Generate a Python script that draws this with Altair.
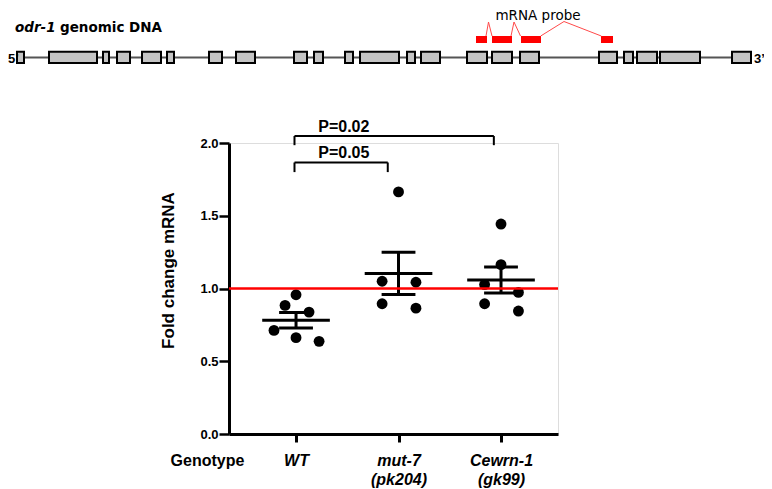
import altair as alt
import pandas as pd

# ---------------- data ----------------
genotypes = ["WT", "mut-7 (pk204)", "Cewrn-1 (gk99)"]
genotype_lines = [["WT"], ["mut-7", "(pk204)"], ["Cewrn-1", "(gk99)"]]

wt_values = [0.957, 0.884, 0.838, 0.712, 0.662, 0.637]
wt_jitter = [0.0, -0.107, 0.127, -0.215, 0.0, 0.225]
mut7_values = [1.664, 1.050, 1.043, 0.895, 0.865]
mut7_jitter = [0.0, -0.16, 0.17, -0.16, 0.17]
cewrn_values = [1.443, 1.164, 1.027, 0.973, 0.895, 0.845]
cewrn_jitter = [0.0, 0.0, -0.16, 0.17, -0.16, 0.17]

reference_level = [1.0]

bracket_left = [-0.015, -0.015]
bracket_right = [0.895, 1.93]
bracket_top = [1.866, 2.048]
bracket_foot = [1.80, 1.985]
bracket_labels = ["P=0.05", "P=0.02"]
bracket_label_x = [0.466, 0.466]
bracket_label_y = [1.899, 2.077]

# gene schematic (positions along the odr-1 locus, arbitrary units)
gene_start = [24]
gene_end = [732]
exon_start = [17, 49, 103, 117, 142, 167, 209, 236, 294, 314, 345, 360, 407, 421,
              467, 492, 520, 599, 624, 637, 660, 732]
exon_end = [24, 97, 109, 130, 161, 174, 222, 255, 307, 323, 353, 399, 415, 440,
            487, 512, 539, 617, 633, 657, 700, 751]
probe_start = [476, 492, 521, 601]
probe_end = [487, 512, 541, 613]
splice_id = [1, 1, 1, 2, 2, 2, 3, 3, 3]
splice_order = [0, 1, 2, 0, 1, 2, 0, 1, 2]
splice_pos = [486, 488.5, 492, 511, 514, 520.5, 540.7, 564, 601.3]
splice_height = [0, 14, 0, 0, 14, 0, 0, 14.5, 0]

# ---------------- tables ----------------
rows = []
for i, (vals, jit) in enumerate([(wt_values, wt_jitter), (mut7_values, mut7_jitter),
                                  (cewrn_values, cewrn_jitter)]):
    for v, j in zip(vals, jit):
        rows.append({"genotype": genotypes[i], "pos": i, "jit": j, "value": v})
df = pd.DataFrame(rows)
ref_df = pd.DataFrame({"ref": reference_level})
br_df = pd.DataFrame({"x1": bracket_left, "x2": bracket_right, "y": bracket_top,
                      "yf": bracket_foot, "label": bracket_labels,
                      "tx": bracket_label_x, "ty": bracket_label_y})
gene_df = pd.DataFrame({"s": gene_start, "e": gene_end})
exon_df = pd.DataFrame({"s": exon_start, "e": exon_end})
probe_df = pd.DataFrame({"s": probe_start, "e": probe_end})
splice_df = pd.DataFrame({"cid": splice_id, "k": splice_order, "x": splice_pos,
                          "h": splice_height})

FONT = "Liberation Sans"
xs = alt.Scale(domain=[-0.654, 2.556])
ys = alt.Scale(domain=[0, 2])
label_expr = str(genotype_lines).replace('"', "'") + "[datum.value]"

x_axis = alt.Axis(values=[0, 1, 2], labelExpr=label_expr, labelFont=FONT,
                  labelFontSize=16, labelFontWeight="bold", labelFontStyle="italic",
                  labelColor="black", labelLineHeight=19, labelBaseline="top",
                  labelPadding=10, labelFlush=False, labelOverlap=False,
                  tickSize=8, tickWidth=3, tickColor="black",
                  domainWidth=3, domainColor="black", grid=False,
                  title="Genotype", titleFont=FONT, titleFontSize=16,
                  titleFontWeight="bold", titleColor="black", titleX=-22, titleY=18,
                  titleAlign="center", titleBaseline="top", titleAngle=0)
y_axis = alt.Axis(values=[0, 0.5, 1, 1.5, 2], format=".1f", labelFont=FONT,
                  labelFontSize=13, labelFontWeight="bold", labelColor="black",
                  labelPadding=1, tickSize=10, tickWidth=2.5, tickColor="black",
                  domainWidth=3, domainColor="black", grid=False,
                  title="Fold change mRNA", titleFont=FONT, titleFontSize=17,
                  titleFontWeight="bold", titleColor="black", titleX=-61, titleY=127,
                  titleAlign="center", titleBaseline="middle", titleAngle=-90)

base = alt.Chart(df)
points = base.mark_circle(size=118, color="black", opacity=1).transform_calculate(
    xp="datum.pos + datum.jit"
).encode(x=alt.X("xp:Q", scale=xs, axis=x_axis),
         y=alt.Y("value:Q", scale=ys, axis=y_axis))

stats = base.transform_aggregate(
    mean="mean(value)", sem="stderr(value)", groupby=["pos"]
).transform_calculate(
    lo="datum.mean - datum.sem", hi="datum.mean + datum.sem",
    xl="datum.pos - 0.33", xr="datum.pos + 0.33",
    cl="datum.pos - 0.165", cr="datum.pos + 0.165")

mean_rule = stats.mark_rule(color="black", strokeWidth=3).encode(
    x=alt.X("xl:Q", scale=xs), x2="xr:Q", y=alt.Y("mean:Q", scale=ys))
sem_rule = stats.mark_rule(color="black", strokeWidth=3).encode(
    x=alt.X("pos:Q", scale=xs), y=alt.Y("lo:Q", scale=ys), y2="hi:Q")
cap_hi = stats.mark_rule(color="black", strokeWidth=3).encode(
    x=alt.X("cl:Q", scale=xs), x2="cr:Q", y=alt.Y("hi:Q", scale=ys))
cap_lo = stats.mark_rule(color="black", strokeWidth=3).encode(
    x=alt.X("cl:Q", scale=xs), x2="cr:Q", y=alt.Y("lo:Q", scale=ys))

br = alt.Chart(br_df)
br_h = br.mark_rule(color="black", strokeWidth=2).encode(
    x=alt.X("x1:Q", scale=xs), x2="x2:Q", y=alt.Y("y:Q", scale=ys))
br_l = br.mark_rule(color="black", strokeWidth=2).encode(
    x=alt.X("x1:Q", scale=xs), y=alt.Y("yf:Q", scale=ys), y2="y:Q")
br_r = br.mark_rule(color="black", strokeWidth=2).encode(
    x=alt.X("x2:Q", scale=xs), y=alt.Y("yf:Q", scale=ys), y2="y:Q")
br_t = br.mark_text(font=FONT, fontSize=16, fontWeight="bold", color="black",
                    align="center", baseline="alphabetic").encode(
    x=alt.X("tx:Q", scale=xs), y=alt.Y("ty:Q", scale=ys), text="label:N")

red = alt.Chart(ref_df).mark_rule(color="#ff0000", strokeWidth=2.5).encode(
    y=alt.Y("ref:Q", scale=ys))

main = alt.layer(points, mean_rule, sem_rule, cap_hi, cap_lo,
                 br_h, br_l, br_r, br_t, red)

# ---------------- gene schematic ----------------
gx = alt.Scale(domain=[0, 772], range=[-229, 543])
gline = alt.Chart(gene_df).mark_rule(color="#555555", strokeWidth=2).encode(
    x=alt.X("s:Q", scale=gx, axis=None), x2="e:Q", y=alt.value(-85.5))
exons = alt.Chart(exon_df).mark_rect(fill="#c4c4c4", stroke="black",
                                     strokeWidth=2).encode(
    x=alt.X("s:Q", scale=gx, axis=None), x2="e:Q",
    y=alt.value(-91.3), y2=alt.value(-80))
probes = alt.Chart(probe_df).mark_rect(fill="#ff0000").encode(
    x=alt.X("s:Q", scale=gx, axis=None), x2="e:Q",
    y=alt.value(-107), y2=alt.value(-100))
splices = alt.Chart(splice_df).mark_line(color="#ff4a4a", strokeWidth=1).encode(
    x=alt.X("x:Q", scale=gx, axis=None),
    y=alt.Y("h:Q", scale=alt.Scale(domain=[0, 20], range=[-107, -127]), axis=None),
    detail="cid:N", order="k:Q")


def gtext(txt, xpos, ypix, size, weight="bold", style="normal", align="left",
          font="DejaVu Sans"):
    d = pd.DataFrame({"t": [txt], "x": [xpos]})
    return alt.Chart(d).mark_text(font=font, fontSize=size, fontWeight=weight,
                                  fontStyle=style, align=align,
                                  baseline="alphabetic", color="black").encode(
        x=alt.X("x:Q", scale=gx, axis=None), y=alt.value(ypix), text="t:N")


t5 = gtext("5’", 8, -80, 13, font=FONT)
t3 = gtext("3’", 754, -80, 13, font=FONT)
t_odr = gtext("odr-1", 15, -111.5, 13.5, style="italic")
t_gen = gtext("genomic DNA", 60, -111.5, 13.5)
t_probe = gtext("mRNA probe", 538, -123, 13.5, weight="normal", align="center")

gene = alt.layer(gline, exons, probes, splices, t5, t3, t_odr, t_gen, t_probe)

chart = alt.layer(main, gene).resolve_scale(
    x="independent", y="independent"
).properties(
    width=329, height=291, autosize="none",
    padding={"left": 221, "top": 135, "right": 206, "bottom": 55}
).configure_view(stroke=None).configure(font=FONT)

chart.save("out.html", embed_options={"renderer": "svg", "actions": False})
